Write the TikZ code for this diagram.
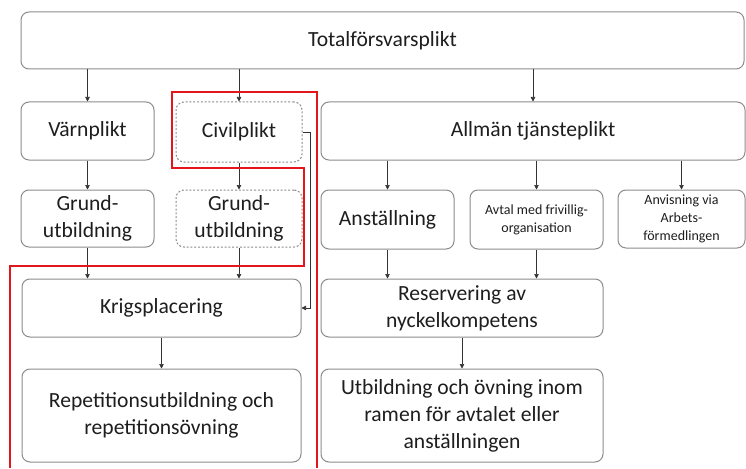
\documentclass[tikz,border=0pt]{standalone}
\usepackage{fontspec}
\setmainfont{Carlito}
\usetikzlibrary{arrows.meta}
\definecolor{boxline}{HTML}{8C8C8C}
\definecolor{conn}{HTML}{333333}
\definecolor{txt}{HTML}{1E1E1E}
\definecolor{redline}{HTML}{E3161B}
\begin{document}
\begin{tikzpicture}[x=1pt,y=-1pt,
  box/.style={draw=boxline, line width=1pt, rounded corners=8pt, align=center, text=txt, inner sep=0pt, font=\fontsize{21.6}{27}\selectfont},
  dbox/.style={box, dash pattern=on 2pt off 1.8pt},
  small/.style={font=\fontsize{14}{18}\selectfont},
  arr/.style={draw=conn, line width=0.7pt, -{Triangle[length=4.5pt,width=4.5pt]}},
  redframe/.style={draw=redline, line width=1.6pt}
]
\useasboundingbox[fill=white] (0,0) rectangle (746,468);
\node[box, minimum width=723pt, minimum height=57pt] (top) at (382.5,40.5) {Totalförsvarsplikt};
\node[box, minimum width=133pt, minimum height=58pt] (varn) at (87.5,131) {Värnplikt};
\node[dbox, minimum width=126pt, minimum height=60pt] (civil) at (239,132) {Civilplikt};
\node[box, minimum width=424pt, minimum height=58pt] (allman) at (533,131) {Allmän tjänsteplikt};
\node[box, minimum width=133pt, minimum height=57pt] (grund1) at (87.5,218.5) {Grund-\\utbildning};
\node[dbox, minimum width=126pt, minimum height=57pt] (grund2) at (239,218.5) {Grund-\\utbildning};
\node[box, minimum width=133pt, minimum height=59pt] (anst) at (387.5,219.5) {Anställning};
\node[box, small, minimum width=133pt, minimum height=59pt] (avtal) at (536.5,219.5) {Avtal med frivillig-\\organisation};
\node[box, small, minimum width=127pt, minimum height=58pt] (anvis) at (681.5,219) {Anvisning via\\Arbets-\\förmedlingen};
\node[box, minimum width=279pt, minimum height=58pt] (krig) at (161.5,308) {Krigsplacering};
\node[box, minimum width=279pt, minimum height=93pt] (rep) at (161.5,415.5) {Repetitionsutbildning och\\repetitionsövning};
\node[box, minimum width=282pt, minimum height=58pt] (reserv) at (462,308) {Reservering av\\nyckelkompetens};
\node[box, minimum width=282pt, minimum height=93pt] (utb) at (462,415.5) {Utbildning och övning inom\\ramen för avtalet eller\\anställningen};

\draw[arr] (varn.north |- top.south) -- (varn.north);
\draw[arr] (civil.north |- top.south) -- (civil.north);
\draw[arr] (allman.north |- top.south) -- (allman.north);
\draw[arr] (varn.south) -- (grund1.north);
\draw[arr] (civil.south) -- (grund2.north);
\draw[arr] (grund1.south) -- (grund1.south |- krig.north);
\draw[arr] (grund2.south) -- (grund2.south |- krig.north);
\draw[arr] (civil.east) -- ++(8,0) |- (krig.east);
\draw[arr] (krig.south) -- (rep.north);
\draw[arr] (anst.north |- allman.south) -- (anst.north);
\draw[arr] (avtal.north |- allman.south) -- (avtal.north);
\draw[arr] (anvis.north |- allman.south) -- (anvis.north);
\draw[arr] (anst.south) -- (anst.south |- reserv.north);
\draw[arr] (avtal.south) -- (avtal.south |- reserv.north);
\draw[arr] (reserv.south) -- (utb.north);

\draw[redframe] (10,468) -- (10,266) -- (304,266) -- (304,168) -- (172,168) -- (172,92) -- (317,92) -- (317,468);
\end{tikzpicture}
\end{document}
